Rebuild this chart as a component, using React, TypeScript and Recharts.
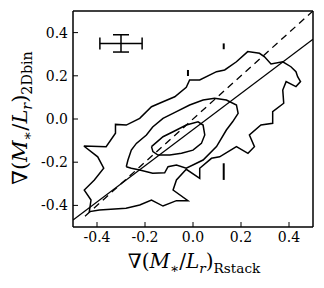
import { ScatterChart, Scatter, XAxis, YAxis, ErrorBar } from 'recharts'

const xTicks = [-0.4, -0.2, 0, 0.2, 0.4]
const yTicks = [-0.4, -0.2, 0, 0.2, 0.4]

// contour outlines, traced clockwise, [x, y]
const outerContour: [number, number][] = [
  [-0.455, -0.125], [-0.362, -0.128], [-0.323, -0.066], [-0.323, -0.025], [-0.278, -0.028],
  [-0.222, 0.003], [-0.173, 0.057], [-0.125, 0.08], [-0.076, 0.103], [-0.028, 0.147],
  [-0.014, 0.181], [0.028, 0.181], [0.098, 0.219], [0.132, 0.227], [0.181, 0.265],
  [0.228, 0.312], [0.277, 0.304], [0.298, 0.288], [0.325, 0.255], [0.374, 0.265],
  [0.408, 0.242], [0.429, 0.219], [0.436, 0.196], [0.448, 0.173], [0.429, 0.15],
  [0.388, 0.173], [0.374, 0.134], [0.378, 0.073], [0.332, 0.034], [0.332, -0.02],
  [0.283, -0.028], [0.235, -0.074], [0.256, -0.128], [0.229, -0.159], [0.181, -0.128],
  [0.111, -0.175], [0.077, -0.182], [0.028, -0.228], [0.028, -0.275], [-0.028, -0.233],
  [-0.069, -0.282], [-0.083, -0.329], [-0.021, -0.378], [-0.069, -0.378], [-0.125, -0.403],
  [-0.173, -0.375], [-0.222, -0.398], [-0.279, -0.413], [-0.39, -0.421], [-0.432, -0.429],
  [-0.425, -0.375], [-0.453, -0.329], [-0.411, -0.282], [-0.372, -0.228], [-0.397, -0.175],
]

const middleContour: [number, number][] = [
  [-0.278, -0.221], [-0.271, -0.19], [-0.257, -0.144], [-0.236, -0.113], [-0.194, -0.074],
  [-0.168, -0.037], [-0.125, 0.003], [-0.069, 0.034], [-0.014, 0.065], [0.042, 0.088],
  [0.09, 0.096], [0.139, 0.088], [0.181, 0.065], [0.188, 0.026], [0.165, -0.013],
  [0.139, -0.051], [0.098, -0.128], [0.042, -0.19], [-0.028, -0.228], [-0.069, -0.213],
  [-0.104, -0.221], [-0.118, -0.249], [-0.168, -0.251], [-0.222, -0.236], [-0.257, -0.228],
]

const innerContour: [number, number][] = [
  [-0.173, -0.128], [-0.125, -0.082], [-0.083, -0.059], [-0.028, -0.028], [0.021, -0.013],
  [0.042, -0.028], [0.049, -0.074], [0.035, -0.113], [0.0, -0.144], [-0.048, -0.159],
  [-0.097, -0.167], [-0.146, -0.167], [-0.167, -0.151],
]

const fitLine: [number, number][] = [[-0.5, -0.468], [0.5, 0.369]]
const oneToOne: [number, number][] = [[-0.45, -0.45], [0.5, 0.5]]

// short vertical marks: x, y bottom, y top
const marks: [number, number, number][] = [
  [0.128, 0.323, 0.35],
  [-0.021, 0.199, 0.227],
  [0.128, -0.282, -0.205],
]

// typical error cross
const errPoint = [{ x: -0.3, y: 0.35, ex: 0.088, ey: 0.04 }]

const closed = (a: [number, number][]) => [...a, a[0]].map(([x, y]) => ({ x, y }))
const open = (a: [number, number][]) => a.map(([x, y]) => ({ x, y }))

const font = '"DejaVu Serif", serif'
const tickStyle = { fontSize: 14, fill: '#000', fontFamily: font }
const noDot = () => <g />

const sub = { fontSize: '0.68em', verticalAlign: '-0.35em', lineHeight: 0 } as const

export default function App() {
  return (
    <div style={{ position: 'absolute', left: 0, top: 0, width: 324, height: 288, background: '#fff' }}>
      <ScatterChart width={324} height={288} margin={{ top: 10, right: 10, bottom: 0, left: 0 }}>
        <XAxis xAxisId="b" type="number" dataKey="x" domain={[-0.5, 0.5]} ticks={xTicks} allowDataOverflow
          orientation="bottom" height={61} tickSize={-5} tickMargin={10}
          tickFormatter={(v: number) => v.toFixed(1)} tick={tickStyle}
          axisLine={{ stroke: '#000', strokeWidth: 1.5 }} tickLine={{ stroke: '#000' }} />
        <XAxis xAxisId="t" type="number" dataKey="x" domain={[-0.5, 0.5]} ticks={xTicks} allowDataOverflow
          orientation="top" height={1} tickSize={-5} tick={false}
          axisLine={{ stroke: '#000', strokeWidth: 1.5 }} tickLine={{ stroke: '#000' }} />
        <YAxis yAxisId="l" type="number" dataKey="y" domain={[-0.5, 0.5]} ticks={yTicks} allowDataOverflow
          orientation="left" width={73} tickSize={-5} tickMargin={10}
          tickFormatter={(v: number) => v.toFixed(1)} tick={tickStyle}
          axisLine={{ stroke: '#000', strokeWidth: 1.5 }} tickLine={{ stroke: '#000' }} />
        <YAxis yAxisId="r" type="number" dataKey="y" domain={[-0.5, 0.5]} ticks={yTicks} allowDataOverflow
          orientation="right" width={1} tickSize={-5} tick={false}
          axisLine={{ stroke: '#000', strokeWidth: 1.5 }} tickLine={{ stroke: '#000' }} />

        <Scatter xAxisId="b" yAxisId="l" data={closed(outerContour)} line={{ stroke: '#000', strokeWidth: 1.5 }}
          lineType="joint" shape={noDot} isAnimationActive={false} />
        <Scatter xAxisId="b" yAxisId="l" data={closed(middleContour)} line={{ stroke: '#000', strokeWidth: 1.5 }}
          lineType="joint" shape={noDot} isAnimationActive={false} />
        <Scatter xAxisId="b" yAxisId="l" data={closed(innerContour)} line={{ stroke: '#000', strokeWidth: 1.5 }}
          lineType="joint" shape={noDot} isAnimationActive={false} />
        <Scatter xAxisId="b" yAxisId="l" data={open(fitLine)} line={{ stroke: '#000', strokeWidth: 1.3 }}
          lineType="joint" shape={noDot} isAnimationActive={false} />
        <Scatter xAxisId="b" yAxisId="l" data={open(oneToOne)} line={{ stroke: '#000', strokeWidth: 1.3, strokeDasharray: '7 5' }}
          lineType="joint" shape={noDot} isAnimationActive={false} />
        {marks.map(([x, y0, y1], i) => (
          <Scatter key={i} xAxisId="b" yAxisId="l" data={[{ x, y: y0 }, { x, y: y1 }]}
            line={{ stroke: '#000', strokeWidth: 2 }} lineType="joint" shape={noDot} isAnimationActive={false} />
        ))}
        <Scatter xAxisId="b" yAxisId="l" data={errPoint} shape={noDot} isAnimationActive={false}>
          <ErrorBar dataKey="ex" direction="x" width={6} stroke="#000" strokeWidth={1.5} />
          <ErrorBar dataKey="ey" direction="y" width={8} stroke="#000" strokeWidth={1.5} />
        </Scatter>
      </ScatterChart>

      <div style={{ position: 'absolute', left: 194, top: 250, transform: 'translateX(-50%)', whiteSpace: 'nowrap',
        fontFamily: font, fontSize: 20, lineHeight: '22px', color: '#000' }}>
        ∇(<i>M</i><span style={sub}>∗</span>/<i>L</i><span style={sub}><i>r</i></span>)<span style={sub}>Rstack</span>
      </div>
      <div style={{ position: 'absolute', left: 20, top: 118, transform: 'translate(-50%, -50%) rotate(-90deg)',
        whiteSpace: 'nowrap', fontFamily: font, fontSize: 21, lineHeight: '22px', color: '#000' }}>
        ∇(<i>M</i><span style={sub}>∗</span>/<i>L</i><span style={sub}><i>r</i></span>)<span style={sub}>2Dbin</span>
      </div>
    </div>
  )
}
